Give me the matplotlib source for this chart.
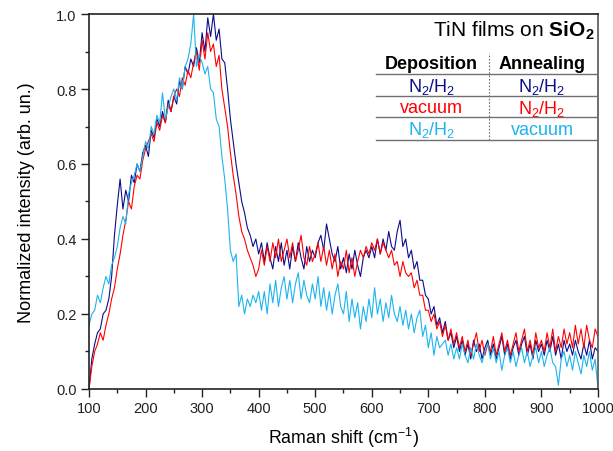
"""Raman spektrumlari: SiO2 uzerinde TiN filmleri, uc kosul."""

import matplotlib

matplotlib.use("Agg")
import matplotlib.pyplot as plt
import numpy as np
from matplotlib.ticker import FormatStrFormatter, MultipleLocator

plt.rcParams.update({
    "font.family": ["Liberation Sans", "DejaVu Sans"],
    "mathtext.fontset": "custom",
    "mathtext.rm": "Liberation Sans",
    "mathtext.it": "Liberation Sans:italic",
    "mathtext.bf": "Liberation Sans:bold",
    "font.size": 10,
})

# Raman kaymasi (cm-1), 5'er adim
shift = np.arange(100, 1001, 5)

# Biriktirme N2/H2, tavlama N2/H2
navy_n2_n2 = [
    0.00, 0.08, 0.12, 0.15, 0.16, 0.20, 0.21, 0.24, 0.30, 0.41,
    0.49, 0.56, 0.48, 0.53, 0.50, 0.57, 0.55, 0.60, 0.58, 0.63,
    0.65, 0.62, 0.69, 0.67, 0.72, 0.70, 0.74, 0.71, 0.77, 0.74,
    0.78, 0.76, 0.82, 0.80, 0.86, 0.84, 0.88, 0.86, 0.91, 0.87,
    0.95, 0.90, 0.99, 0.94, 1.00, 0.93, 0.96, 0.88, 0.87, 0.80,
    0.72, 0.66, 0.60, 0.55, 0.50, 0.47, 0.43, 0.41, 0.38, 0.40,
    0.36, 0.39, 0.34, 0.39, 0.35, 0.32, 0.38, 0.34, 0.39, 0.33,
    0.37, 0.32, 0.38, 0.34, 0.39, 0.35, 0.32, 0.38, 0.34, 0.37,
    0.35, 0.39, 0.41, 0.37, 0.44, 0.40, 0.36, 0.34, 0.38, 0.32,
    0.35, 0.31, 0.36, 0.32, 0.37, 0.33, 0.30, 0.35, 0.37, 0.35,
    0.38, 0.35, 0.40, 0.36, 0.40, 0.37, 0.42, 0.38, 0.37, 0.42,
    0.45, 0.38, 0.40, 0.35, 0.37, 0.32, 0.34, 0.29, 0.29, 0.25,
    0.24, 0.20, 0.22, 0.17, 0.19, 0.15, 0.18, 0.13, 0.15, 0.11,
    0.14, 0.10, 0.13, 0.09, 0.12, 0.08, 0.13, 0.10, 0.12, 0.08,
    0.11, 0.13, 0.09, 0.12, 0.08, 0.11, 0.14, 0.09, 0.12, 0.08,
    0.11, 0.13, 0.09, 0.12, 0.14, 0.09, 0.12, 0.08, 0.13, 0.10,
    0.12, 0.09, 0.13, 0.10, 0.14, 0.09, 0.12, 0.08, 0.13, 0.10,
    0.12, 0.09, 0.13, 0.10, 0.08, 0.12, 0.09, 0.13, 0.08, 0.11,
    0.10,
]

# Biriktirme vakum, tavlama N2/H2
red_vac_n2 = [
    0.00, 0.06, 0.10, 0.12, 0.15, 0.13, 0.17, 0.20, 0.24, 0.27,
    0.32, 0.36, 0.41, 0.45, 0.50, 0.48, 0.54, 0.57, 0.56, 0.61,
    0.64, 0.66, 0.68, 0.66, 0.71, 0.69, 0.73, 0.71, 0.76, 0.74,
    0.78, 0.80, 0.78, 0.83, 0.81, 0.85, 0.83, 0.87, 0.90, 0.85,
    0.93, 0.88, 0.95, 0.90, 0.92, 0.86, 0.89, 0.80, 0.75, 0.70,
    0.63, 0.57, 0.52, 0.46, 0.42, 0.40, 0.37, 0.35, 0.33, 0.30,
    0.32, 0.37, 0.33, 0.38, 0.34, 0.39, 0.35, 0.40, 0.34, 0.37,
    0.40, 0.35, 0.39, 0.34, 0.37, 0.41, 0.35, 0.33, 0.38, 0.34,
    0.36, 0.39, 0.34, 0.38, 0.33, 0.37, 0.32, 0.36, 0.30, 0.34,
    0.32, 0.37, 0.31, 0.35, 0.30, 0.34, 0.37, 0.35, 0.38, 0.36,
    0.39, 0.37, 0.40, 0.36, 0.39, 0.37, 0.35, 0.37, 0.33, 0.34,
    0.30, 0.34, 0.31, 0.30, 0.31, 0.27, 0.29, 0.25, 0.25, 0.21,
    0.21, 0.18, 0.20, 0.16, 0.18, 0.14, 0.17, 0.13, 0.16, 0.12,
    0.15, 0.11, 0.14, 0.10, 0.13, 0.09, 0.12, 0.15, 0.10, 0.13,
    0.09, 0.12, 0.10, 0.14, 0.09, 0.12, 0.15, 0.10, 0.13, 0.09,
    0.12, 0.15, 0.10, 0.13, 0.16, 0.10, 0.13, 0.09, 0.15, 0.11,
    0.13, 0.10, 0.15, 0.11, 0.16, 0.10, 0.14, 0.11, 0.16, 0.12,
    0.15, 0.11, 0.17, 0.12, 0.16, 0.11, 0.17, 0.13, 0.11, 0.16,
    0.14,
]

# Biriktirme N2/H2, tavlama vakum
cyan_n2_vac = [
    0.17, 0.20, 0.21, 0.25, 0.23, 0.27, 0.30, 0.28, 0.33, 0.35,
    0.38, 0.43, 0.46, 0.44, 0.52, 0.55, 0.57, 0.60, 0.58, 0.62,
    0.66, 0.64, 0.70, 0.68, 0.73, 0.71, 0.79, 0.72, 0.75, 0.78,
    0.80, 0.77, 0.83, 0.80, 0.86, 0.88, 0.92, 1.00, 0.86, 0.89,
    0.87, 0.84, 0.86, 0.80, 0.79, 0.72, 0.70, 0.62, 0.56, 0.48,
    0.37, 0.34, 0.36, 0.22, 0.25, 0.20, 0.24, 0.22, 0.25, 0.23,
    0.26, 0.21, 0.26, 0.20, 0.28, 0.23, 0.29, 0.22, 0.27, 0.30,
    0.24, 0.29, 0.23, 0.28, 0.31, 0.24, 0.29, 0.25, 0.23, 0.28,
    0.24, 0.30, 0.22, 0.27, 0.21, 0.26, 0.20, 0.25, 0.28, 0.22,
    0.20, 0.26, 0.18, 0.24, 0.19, 0.23, 0.16, 0.22, 0.18, 0.24,
    0.19, 0.27, 0.20, 0.24, 0.18, 0.23, 0.19, 0.25, 0.20, 0.18,
    0.22, 0.17, 0.21, 0.16, 0.20, 0.15, 0.19, 0.21, 0.14, 0.17,
    0.11, 0.15, 0.09, 0.14, 0.11, 0.12, 0.13, 0.09, 0.12, 0.08,
    0.11, 0.08, 0.12, 0.09, 0.07, 0.11, 0.08, 0.12, 0.09, 0.07,
    0.10, 0.12, 0.08, 0.11, 0.07, 0.10, 0.05, 0.09, 0.11, 0.07,
    0.10, 0.06, 0.09, 0.11, 0.07, 0.10, 0.06, 0.09, 0.11, 0.07,
    0.10, 0.06, 0.09, 0.11, 0.07, 0.06, 0.01, 0.08, 0.10, 0.06,
    0.09, 0.05, 0.10, 0.07, 0.04, 0.09, 0.06, 0.10, 0.05, 0.08,
    0.00,
]

NAVY = "#0c0c8a"
RED = "#ff0000"
CYAN = "#1cb4ee"

fig = plt.figure(figsize=(6.13, 4.52), dpi=100)
ax = fig.add_axes([0.1452, 0.1372, 0.8303, 0.8296])

ax.plot(shift, navy_n2_n2, color=NAVY, lw=0.8)
ax.plot(shift, red_vac_n2, color=RED, lw=0.8)
ax.plot(shift, cyan_n2_vac, color=CYAN, lw=0.8)

ax.set_xlim(100, 1000)
ax.set_ylim(0, 1.0)
ax.xaxis.set_major_locator(MultipleLocator(100))
ax.xaxis.set_minor_locator(MultipleLocator(50))
ax.yaxis.set_major_locator(MultipleLocator(0.2))
ax.yaxis.set_minor_locator(MultipleLocator(0.1))
ax.yaxis.set_major_formatter(FormatStrFormatter("%.1f"))
ax.tick_params(which="major", direction="out", length=5.5, width=1.0,
               labelsize=10.5, colors="#222222")
ax.tick_params(which="minor", direction="out", length=2.8, width=1.0,
               colors="#222222")
for s in ax.spines.values():
    s.set_linewidth(1.2)
    s.set_color("#222222")
ax.spines["right"].set_color("#555555")

ax.set_xlabel("Raman shift (cm$^{-1}$)", fontsize=12.8, labelpad=7)
ax.set_ylabel("Normalized intensity (arb. un.)", fontsize=13, labelpad=15)

# Sag ust tablo (eksen kesirleri)
tr = ax.transAxes
ax.text(0.994, 0.958, r"TiN films on $\mathbf{SiO_2}$", transform=tr,
        ha="right", va="center", fontsize=15)
ax.text(0.673, 0.869, "Deposition", transform=tr, ha="center", va="center",
        fontsize=13, fontweight="bold")
ax.text(0.89, 0.869, "Annealing", transform=tr, ha="center", va="center",
        fontsize=13, fontweight="bold")
rows = [
    (r"N$_2$/H$_2$", r"N$_2$/H$_2$", NAVY, 0.807),
    ("vacuum", r"N$_2$/H$_2$", RED, 0.750),
    (r"N$_2$/H$_2$", "vacuum", CYAN, 0.692),
]
for dep, ann, col, yy in rows:
    ax.text(0.673, yy, dep, transform=tr, ha="center", va="center",
            fontsize=13, color=col)
    ax.text(0.89, yy, ann, transform=tr, ha="center", va="center",
            fontsize=13, color=col)
for yy in [0.84, 0.781, 0.725, 0.664]:
    ax.plot([0.564, 0.996], [yy, yy], transform=tr, color="#707070", lw=1.0)
ax.plot([0.786, 0.786], [0.664, 0.895], transform=tr, color="#707070",
        lw=0.8, ls=(0, (1.5, 1.5)))

fig.savefig("out.png", dpi=100)
